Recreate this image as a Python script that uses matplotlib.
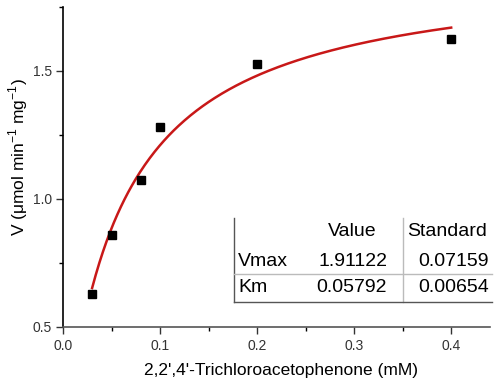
import numpy as np
import matplotlib
matplotlib.use("Agg")
import matplotlib.pyplot as plt
from matplotlib.lines import Line2D
from matplotlib.ticker import MultipleLocator

plt.rcParams['font.family'] = ['Liberation Sans', 'DejaVu Sans']

# substrate concentration (mM) and measured rate
conc = [0.03, 0.05, 0.08, 0.10, 0.20, 0.40]
rate = [0.627, 0.859, 1.073, 1.280, 1.526, 1.625]

# Michaelis-Menten fit results
param_names = ["Vmax", "Km"]
param_values = ["1.91122", "0.05792"]
param_errors = ["0.07159", "0.00654"]
vmax = 1.91122
km = 0.05792

W, H = 494, 385
fig = plt.figure(figsize=(W / 100, H / 100), dpi=100)
ax = fig.add_axes([63 / W, 1 - 327 / H, (490 - 63) / W, (327 - 7) / H])

xs = np.linspace(min(conc), max(conc), 300)
ax.plot(xs, vmax * xs / (km + xs), color='#c81818', lw=1.8, zorder=2)
ax.plot(conc, rate, 's', color='black', ms=6, zorder=3)

ax.set_xlim(0, 0.44)
ax.set_ylim(0.5, 1.75)
ax.xaxis.set_major_locator(MultipleLocator(0.1))
ax.xaxis.set_minor_locator(MultipleLocator(0.05))
ax.yaxis.set_major_locator(MultipleLocator(0.5))
ax.yaxis.set_minor_locator(MultipleLocator(0.25))
ax.tick_params(which='major', direction='out', length=5, width=1, labelsize=10,
               colors='#333333')
ax.tick_params(which='minor', direction='out', length=3, width=1)
ax.tick_params(axis='x', pad=4)
ax.tick_params(axis='y', pad=3)
for s in ['top', 'right']:
    ax.spines[s].set_visible(False)
ax.spines['left'].set_color('black')
ax.spines['bottom'].set_color('#555555')
ax.spines['left'].set_linewidth(1.2)
ax.spines['bottom'].set_linewidth(1.2)

fig.text(281 / W, 1 - 370 / H, "2,2',4'-Trichloroacetophenone (mM)",
         ha='center', va='center', fontsize=12.5)
fig.text(18 / W, 1 - 157 / H,
         r"V ($\mathregular{\mu}$mol min$^{\mathregular{-1}}$ mg$^{\mathregular{-1}}$)",
         ha='center', va='center', rotation=90, fontsize=12.5)

# fit parameter table
def fline(x0, y0, x1, y1, color):
    fig.add_artist(Line2D([x0 / W, x1 / W], [1 - y0 / H, 1 - y1 / H],
                          color=color, lw=1, transform=fig.transFigure))

fline(234, 218, 234, 302, '#555555')
fline(403, 218, 403, 302, '#bbbbbb')
fline(234, 274, 492, 274, '#bbbbbb')
fline(234, 302, 492, 302, '#555555')

fs = 14
fig.text(352 / W, 1 - 232 / H, "Value", ha='center', va='center', fontsize=fs)
fig.text(407 / W, 1 - 232 / H, "Standard", ha='left', va='center', fontsize=fs)
row_y = [261, 288]
for name, val, err, y in zip(param_names, param_values, param_errors, row_y):
    fig.text(238 / W, 1 - y / H, name, ha='left', va='center', fontsize=fs)
    fig.text(387 / W, 1 - y / H, val, ha='right', va='center', fontsize=fs)
    fig.text(489 / W, 1 - y / H, err, ha='right', va='center', fontsize=fs)

fig.savefig("out.png", dpi=100)
